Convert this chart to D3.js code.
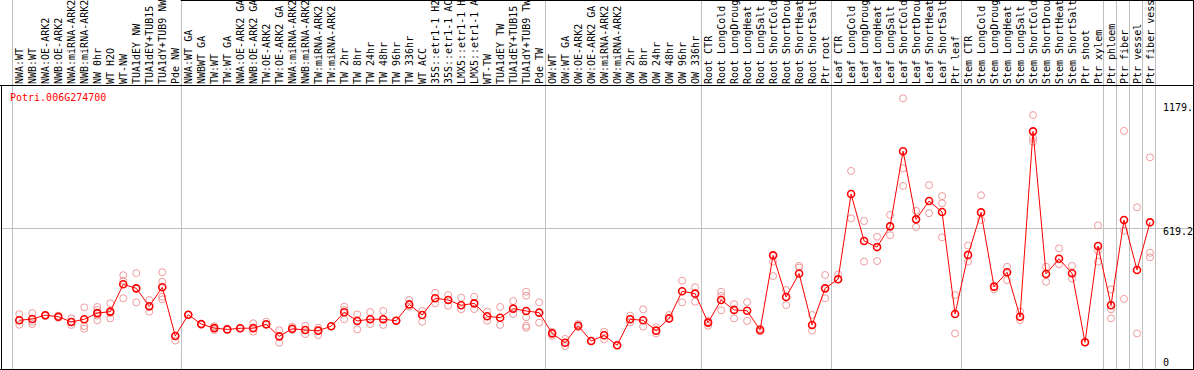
<!DOCTYPE html>
<html lang="en">
<head>
  <meta charset="UTF-8" />
  <script src="https://unpkg.com/d3@7/dist/d3.min.js"></script>
  <title>Potri.006G274700</title>
  <style>
    body { margin: 0; background: #fff; }
    text { font-family: "DejaVu Sans Mono", "Liberation Mono", monospace; font-size: 10px; }
  </style>
</head>
<body>
  <svg width="1194" height="370"></svg>
  <script>
    const geneId = "Potri.006G274700";

    const categories = [
      "NWA:WT", "NWB:WT", "NWA:OE-ARK2", "NWB:OE-ARK2", "NWA:miRNA-ARK2", "NWB:miRNA-ARK2",
      "NW 0hr", "WT H2O", "WT-NW", "TUA1dEY NW", "TUA1dEY+TUB15 NW", "TUA1dY+TUB9 NW", "Pde NW",
      "NWA:WT GA", "NWBWT GA", "TW:WT", "TW:WT GA", "NWA:OE-ARK2 GA", "NWB:OE-ARK2 GA",
      "TW:OE-ARK2", "TW:OE-ARK2 GA", "NWA:miRNA-ARK2", "NWB:miRNA-ARK2", "TW:miRNA-ARK2",
      "TW:miRNA-ARK2", "TW 2hr", "TW 8hr", "TW 24hr", "TW 48hr", "TW 96hr", "TW 336hr",
      "WT ACC", "35S::etr1-1 H2O", "35S::etr1-1 ACC", "LMX5::etr1-1 H2O", "LMX5::etr1-1 ACC",
      "WT-TW", "TUA1dEY TW", "TUA1dEY+TUB15 TW", "TUA1dY+TUB9 TW", "Pde TW",
      "OW:WT", "OW:WT GA", "OW:OE-ARK2", "OW:OE-ARK2 GA", "OW:miRNA-ARK2", "OW:miRNA-ARK2",
      "OW 2hr", "OW 8hr", "OW 24hr", "OW 48hr", "OW 96hr", "OW 336hr",
      "Root CTR", "Root LongCold", "Root LongDrought", "Root LongHeat", "Root LongSalt",
      "Root ShortCold", "Root ShortDrought", "Root ShortHeat", "Root ShortSalt", "Ptr root",
      "Leaf CTR", "Leaf LongCold", "Leaf LongDrought", "Leaf LongHeat", "Leaf LongSalt",
      "Leaf ShortCold", "Leaf ShortDrought", "Leaf ShortHeat", "Leaf ShortSalt", "Ptr leaf",
      "Stem CTR", "Stem LongCold", "Stem LongDrought", "Stem LongHeat", "Stem LongSalt",
      "Stem ShortCold", "Stem ShortDrought", "Stem ShortHeat", "Stem ShortSalt", "Ptr shoot",
      "Ptr xylem", "Ptr phloem", "Ptr fiber", "Ptr vessel", "Ptr fiber vessel"
    ];

    const means = [
      183, 189, 207, 200, 175, 188, 217, 224, 353, 334, 249, 339, 109,
      209, 165, 146, 140, 145, 146, 164, 107, 143, 137, 134, 155, 221, 180, 188, 188, 181,
      258, 208, 287, 279, 254, 263, 202, 195, 238, 227, 219,
      121, 77, 157, 85, 112, 65, 188, 183, 134, 192, 320, 309,
      172, 279, 232, 228, 137, 490, 293, 404, 161, 334,
      377, 780, 558, 529, 627, 982, 660, 747, 695, 213,
      492, 693, 342, 410, 200, 1076, 402, 474, 405, 79,
      534, 254, 657, 421, 646
    ];

    const replicates = [
      [212, 162, 184], [217, 165, 176], [208, 203, 205], [205, 195], [192, 161, 175],
      [244, 156, 143], [246, 232, 205, 183], [263, 192, 217], [396, 370, 287], [406, 268],
      [279, 224, 246], [410, 365, 294, 282], [109, 87],
      [209, 209], [165, 165], [155, 137], [140, 140], [145, 145], [169, 129], [176, 161],
      [136, 77], [153, 137], [157, 118], [148, 113], [155, 155], [247, 232, 188], [211, 140],
      [222, 165], [227, 161], [181, 181],
      [279, 247], [227, 176], [313, 263], [302, 252], [290, 235], [294, 236], [224, 181],
      [246, 161], [274, 213], [318, 299, 197, 157, 148], [268, 172],
      [129, 109], [95, 61], [165, 150], [85, 85], [129, 93], [65, 65], [205, 172], [235, 153],
      [150, 121], [208, 192], [370, 268], [339, 271],
      [180, 157], [318, 298, 230], [259, 192], [269, 180], [144, 130], [490, 460, 392],
      [326, 255], [440, 432], [208, 134], [397, 287],
      [400, 377], [889, 665], [652, 460], [578, 463], [681, 585], [1232, 901, 818], [700, 624],
      [822, 689], [770, 736, 575], [302, 121],
      [536, 460], [774, 657], [329, 342], [436, 373], [224, 184], [1153, 1043, 1027],
      [436, 365], [523, 448], [440, 381], [79, 79],
      [632, 512, 460], [329, 235, 192], [1078, 606, 284], [717, 121], [953, 502, 481]
    ];

    // index of the last category in each group (-1 = left edge)
    const groupEnds = [-1, 12, 40, 52, 62, 72, 83, 84, 85, 86, 87];

    const yMax = 1238.4;
    const yTicks = [0, 619.2, 1179];
    const yTickLabels = ["0", "619.2", "1179."];

    const svg = d3.select("svg");

    const plotTop = 86, plotBottom = 369, plotLeft = 1, plotRight = 1193;
    const maxChars = 14; // label column only holds this many characters

    const x = d3.scaleLinear().domain([0, categories.length - 1]).range([19.3, 1150]);
    const y = d3.scaleLinear().domain([0, yMax]).range([359, 97]);

    const grey = "#c0c0c0";

    // group separators
    svg.selectAll("line.sep")
      .data(groupEnds)
      .enter()
      .append("line")
      .attr("x1", d => Math.round(x(d + 0.42)) + 0.5)
      .attr("x2", d => Math.round(x(d + 0.42)) + 0.5)
      .attr("y1", 0)
      .attr("y2", plotBottom)
      .attr("stroke", grey);

    // mid grid line
    svg.append("line")
      .attr("x1", plotLeft).attr("x2", plotRight)
      .attr("y1", Math.round(y(yTicks[1])) + 0.5)
      .attr("y2", Math.round(y(yTicks[1])) + 0.5)
      .attr("stroke", grey);

    // frame
    const frame = svg.append("g").attr("stroke", "#000").attr("fill", "none");
    frame.append("line").attr("x1", 0).attr("x2", plotRight + 1).attr("y1", plotTop - 0.5).attr("y2", plotTop - 0.5);
    frame.append("line").attr("x1", plotLeft + 0.5).attr("x2", plotLeft + 0.5).attr("y1", plotTop).attr("y2", plotBottom);
    frame.append("line").attr("x1", 0).attr("x2", plotRight + 1).attr("y1", plotBottom + 0.5).attr("y2", plotBottom + 0.5);
    frame.append("line").attr("x1", plotRight + 0.5).attr("x2", plotRight + 0.5).attr("y1", 0).attr("y2", plotBottom + 1);
    frame.append("line").attr("x1", x(12.42)).attr("x2", plotRight + 1).attr("y1", 0.5).attr("y2", 0.5);

    // category labels
    svg.selectAll("text.cat")
      .data(categories)
      .enter()
      .append("text")
      .attr("class", "cat")
      .attr("transform", (d, i) => `translate(${x(i) + 4},${plotTop - 2}) rotate(-90)`)
      .attr("fill", "#000")
      .text(d => d.slice(0, maxChars));

    // y labels
    svg.selectAll("text.ytick")
      .data(yTicks)
      .enter()
      .append("text")
      .attr("x", 1163)
      .attr("y", (d, i) => y(d) + (i === yTicks.length - 1 ? 1.5 : 7))
      .attr("fill", "#000")
      .text((d, i) => yTickLabels[i]);

    // title
    svg.append("text")
      .attr("x", 10)
      .attr("y", 100.5)
      .attr("fill", "red")
      .text(geneId);

    // replicate points
    const reps = [];
    replicates.forEach((arr, i) => arr.forEach(v => reps.push({ i, v })));
    svg.selectAll("circle.rep")
      .data(reps)
      .enter()
      .append("circle")
      .attr("cx", d => x(d.i))
      .attr("cy", d => y(d.v))
      .attr("r", 3.5)
      .attr("fill", "none")
      .attr("stroke", "#f09a9a")
      .attr("stroke-width", 1);

    // mean line
    const line = d3.line().x((d, i) => x(i)).y(d => y(d));
    svg.append("path")
      .datum(means)
      .attr("d", line)
      .attr("fill", "none")
      .attr("stroke", "red")
      .attr("stroke-width", 1);

    svg.selectAll("circle.mean")
      .data(means)
      .enter()
      .append("circle")
      .attr("cx", (d, i) => x(i))
      .attr("cy", d => y(d))
      .attr("r", 3.5)
      .attr("fill", "none")
      .attr("stroke", "red")
      .attr("stroke-width", 1.6);
  </script>
</body>
</html>
